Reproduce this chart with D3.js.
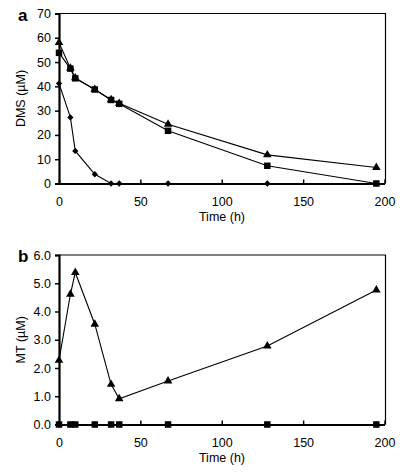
<!DOCTYPE html>
<html><head><meta charset="utf-8">
<script src="https://cdn.jsdelivr.net/npm/d3@7"></script>
<style>body{margin:0;background:#fff}svg{display:block;font-family:Arial,"Liberation Sans",sans-serif}</style>
</head><body><svg id="c" width="400" height="473"></svg>
<script>
const time = [0, 7, 10, 22, 32, 37, 67, 128, 195];
const dmsTriangle = [58, 47.5, 43.5, 38.7, 34.5, 33, 24.4, 11.8, 6.6];
const dmsSquare = [53.8, 47.3, 43.3, 38.7, 34.4, 32.8, 21.7, 7.3, 0];
const dmsDiamond = [41.2, 27.2, 13.4, 3.8, 0, 0, 0, 0, 0];
const mtTriangle = [2.27, 4.61, 5.38, 3.55, 1.42, 0.91, 1.54, 2.78, 4.76];
const mtSquare = [0, 0, 0, 0, 0, 0, 0, 0, 0];
const mtDiamond = [0, 0, 0, 0, 0, 0, 0, 0, 0];
const xTicks = [0, 50, 100, 150, 200];
const dmsTicks = [0, 10, 20, 30, 40, 50, 60, 70];
const mtTicks = [0, 1, 2, 3, 4, 5, 6];

const svg = d3.select("#c");
const x = d3.scaleLinear().domain([0, 200]).range([59, 384.5]);

function panel(opts) {
  const y = d3.scaleLinear().domain(opts.yDomain).range([opts.bottom, opts.top]);
  const g = svg.append("g");
  g.append("path").attr("d", `M59,${opts.top}H385.5V${opts.bottom}`).attr("fill","none").attr("stroke","#000").attr("stroke-width",1.2);
  const ya = g.append("g").attr("transform","translate(59,0)")
    .call(d3.axisLeft(y).tickValues(opts.yTicks).tickSize(4).tickPadding(4).tickFormat(opts.fmt));
  ya.select(".domain").attr("stroke-width",2.2);
  ya.selectAll(".tick line").attr("stroke-width",1.5);
  ya.selectAll("text").attr("font-size",12.5).attr("fill","#000").attr("font-family","Arial, 'Liberation Sans', sans-serif");
  const xa = g.append("g").attr("transform",`translate(0,${opts.bottom})`)
    .call(d3.axisBottom(x).tickValues(xTicks).tickSize(-4).tickPadding(14).tickSizeOuter(0));
  xa.select(".domain").attr("stroke-width",2.2);
  xa.selectAll(".tick line").attr("stroke-width",1.5);
  xa.selectAll("text").attr("font-size",12.5).attr("fill","#000").attr("font-family","Arial, 'Liberation Sans', sans-serif");
  g.append("text").attr("x",222).attr("y",opts.bottom+37).attr("text-anchor","middle").attr("font-size",12.5).text("Time (h)");
  g.append("text").attr("transform",`translate(25,${(opts.top+opts.bottom)/2}) rotate(-90)`).attr("text-anchor","middle").attr("font-size",12.5).text(opts.ylabel);
  g.append("text").attr("x",18).attr("y",opts.top+7).attr("font-size",17).attr("font-weight","bold").text(opts.letter);

  const line = d3.line().x((d,i)=>x(time[i])).y(d=>y(d));
  opts.series.forEach(s => {
    g.append("path").datum(s.values).attr("d",line).attr("fill","none").attr("stroke","#000").attr("stroke-width",1.1);
  });
  opts.series.forEach(s => {
    const type = s.kind === "triangle" ? d3.symbolTriangle : d3.symbolSquare;
    const sym = d3.symbol().type(type).size(s.size);
    g.selectAll(null).data(s.values).enter().append("path")
      .attr("d", sym)
      .attr("transform",(d,i)=>`translate(${x(time[i])},${y(d)})${s.kind==="diamond"?" rotate(45)":""}`)
      .attr("fill","#000");
  });
}

panel({top:13.5, bottom:183.5, yDomain:[0,70], yTicks:dmsTicks, fmt:d3.format("d"), ylabel:"DMS (µM)", letter:"a",
  series:[
    {values:dmsDiamond, kind:"diamond", size:20},
    {values:dmsSquare, kind:"square", size:42},
    {values:dmsTriangle, kind:"triangle", size:32}
  ]});
panel({top:255, bottom:424.5, yDomain:[0,6], yTicks:mtTicks, fmt:d3.format(".1f"), ylabel:"MT (µM)", letter:"b",
  series:[
    {values:mtDiamond, kind:"diamond", size:20},
    {values:mtSquare, kind:"square", size:42},
    {values:mtTriangle, kind:"triangle", size:32}
  ]});
</script>
</body></html>
